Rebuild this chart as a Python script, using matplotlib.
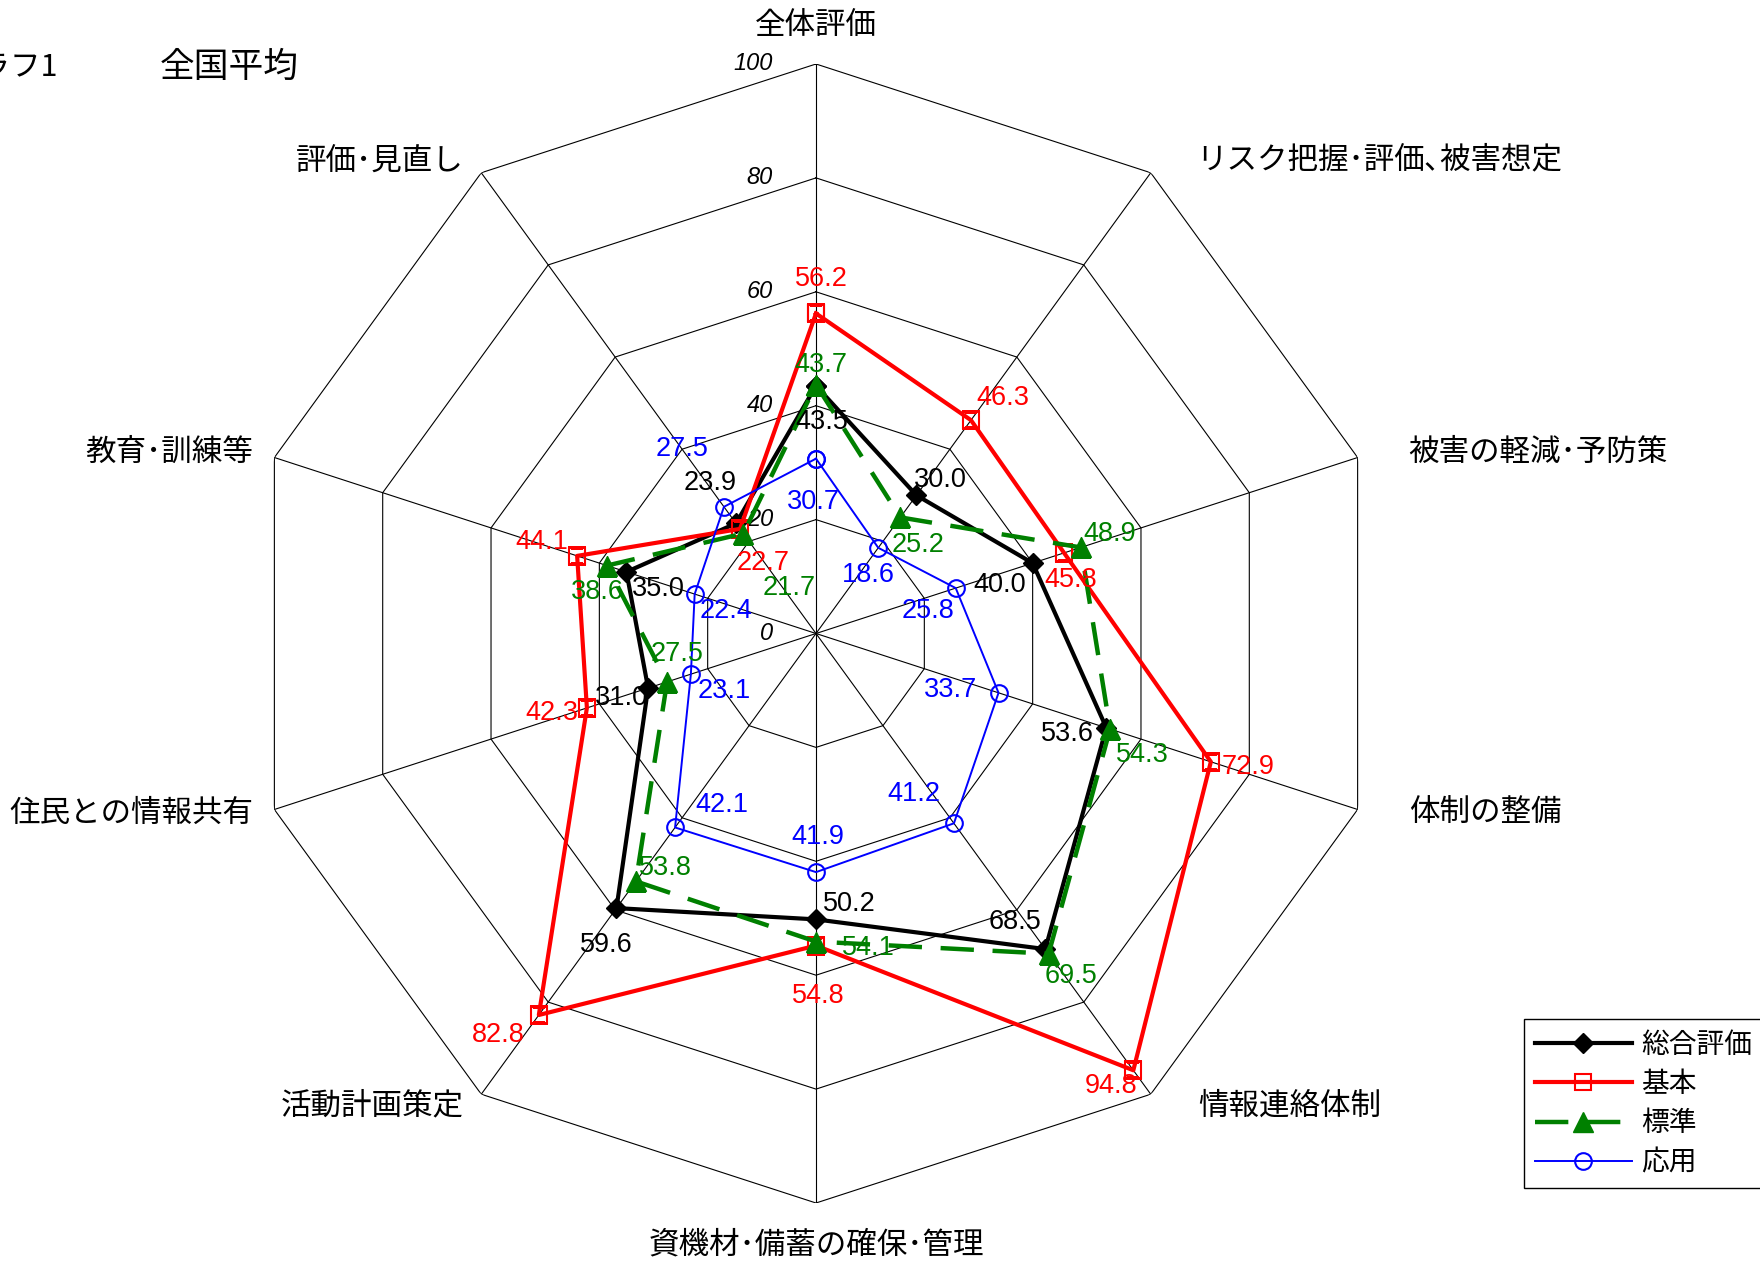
import matplotlib
matplotlib.use('Agg')
import matplotlib.pyplot as plt
import numpy as np

# データ
categories = ['全体評価', 'リスク把握･評価､被害想定', '被害の軽減･予防策', '体制の整備',
              '情報連絡体制', '資機材･備蓄の確保･管理', '活動計画策定', '住民との情報共有',
              '教育･訓練等', '評価･見直し']
sogo = [43.5, 30.0, 40.0, 53.6, 68.5, 50.2, 59.6, 31.0, 35.0, 23.9]
kihon = [56.2, 46.3, 45.8, 72.9, 94.8, 54.8, 82.8, 42.3, 44.1, 22.7]
hyojun = [43.7, 25.2, 48.9, 54.3, 69.5, 54.1, 53.8, 27.5, 38.6, 21.7]
oyo = [30.7, 18.6, 25.8, 33.7, 41.2, 41.9, 42.1, 23.1, 22.4, 27.5]
series_names = ['総合評価', '基本', '標準', '応用']
rticks = [0, 20, 40, 60, 80, 100]

JP = ['Noto Sans CJK JP', 'DejaVu Sans']
NUM = ['Liberation Sans', 'DejaVu Sans']

# ラベルの位置ずれ (px, 下向き正)
off_sogo = [(6, 36), (24, -15), (-33, 22), (-39, 6), (-30, -27), (33, -15), (-10, 37), (-27, 10), (32, 17), (-26, -40)]
off_kihon = [(5, -34), (32, -22), (7, 27), (37, 5), (-22, 16), (2, 50), (-41, 20), (-35, 5), (-35, -14), (23, 34)]
off_hyojun = [(5, -20), (18, 28), (29, -13), (32, 26), (22, 22), (52, 6), (29, -13), (10, -28), (-10, 26), (46, 54)]
off_oyo = [(-3, 43), (-10, 27), (-28, 23), (-48, -3), (-40, -29), (2, -35), (47, -22), (33, 17), (31, 17), (-42, -58)]
cat_off = [(0, -39, 'center'), (46, -13, 'left'), (51, -5, 'left'), (51, 4, 'left'), (47, 12, 'left'),
           (0, 42, 'center'), (-18, 12, 'right'), (-21, 4, 'right'), (-21, -5, 'right'), (-18, -12, 'right')]

W, H = 1760, 1261
fig = plt.figure(figsize=(W / 100, H / 100), dpi=100)
cx, cy, R = 816, 633.5, 569.5
ax = fig.add_axes([(cx - R) / W, (H - cy - R) / H, 2 * R / W, 2 * R / H], projection='polar')
ax.set_theta_zero_location('N')
ax.set_theta_direction(-1)
ax.set_ylim(0, 100)
ax.grid(False)
ax.set_xticks([])
ax.set_yticks([])
ax.spines['polar'].set_visible(False)
ax.patch.set_alpha(0)

n = len(categories)
theta = np.arange(n) * 2 * np.pi / n
theta_c = np.append(theta, theta[0])

# 多角形のグリッド
for r in rticks[1:]:
    ax.plot(theta_c, [r] * (n + 1), color='black', lw=0.8, zorder=1)
for t in theta:
    ax.plot([t, t], [0, 100], color='black', lw=0.8, zorder=1)
for r in rticks:
    ax.annotate(str(r), xy=(0, r), xytext=(-43, 0), textcoords='offset pixels',
                ha='right', va='center', fontsize=17, style='italic', family=NUM)

styles = [
    dict(color='black', lw=3, marker='D', ms=10, mfc='black', mec='black'),
    dict(color='#FF0000', lw=3, marker='s', ms=11, mfc='none', mec='#FF0000', mew=1.5),
    dict(color='#008000', lw=3.2, ls=(0, (7.5, 4.2)), marker='^', ms=14, mfc='#008000', mec='#008000'),
    dict(color='#0000FF', lw=1.4, marker='o', ms=12, mfc='none', mec='#0000FF', mew=1.5),
]
all_vals = [sogo, kihon, hyojun, oyo]
all_off = [off_sogo, off_kihon, off_hyojun, off_oyo]
handles = []
for k, vals in enumerate(all_vals):
    v = np.append(vals, vals[0])
    h, = ax.plot(theta_c, v, zorder=3 + k, label=series_names[k], **styles[k])
    handles.append(h)
    for i in range(n):
        dx, dy = all_off[k][i]
        ax.annotate(f'{vals[i]:.1f}', xy=(theta[i], vals[i]), xytext=(dx, -dy),
                    textcoords='offset pixels', ha='center', va='center',
                    fontsize=19.5, color=styles[k]['color'], family=NUM, zorder=10)

for i, c in enumerate(categories):
    dx, dy, ha = cat_off[i]
    ax.annotate(c, xy=(theta[i], 100), xytext=(dx, -dy), textcoords='offset pixels',
                ha=ha, va='center', fontsize=22, family=JP, annotation_clip=False)

fig.text(58 / W, 1 - 67 / H, 'グラフ1', ha='right', va='center', fontsize=22, family=JP)
fig.text(160 / W, 1 - 67 / H, '全国平均', ha='left', va='center', fontsize=25, family=JP)

leg = fig.legend(handles=handles, loc='upper left', bbox_to_anchor=(1524 / W, 1 - 1019 / H),
                 prop={'family': JP, 'size': 20}, frameon=True, fancybox=False,
                 edgecolor='black', framealpha=1, borderpad=0.38, handlelength=3.5,
                 handletextpad=0.35, labelspacing=0.34, borderaxespad=0)
leg.get_frame().set_linewidth(1)

fig.savefig('out.png', dpi=100)
